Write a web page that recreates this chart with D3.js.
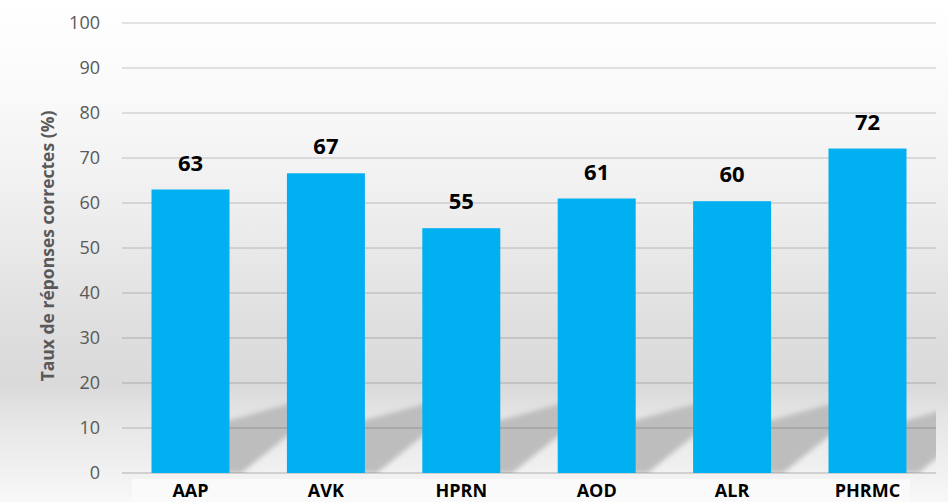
<!DOCTYPE html>
<html>
<head>
<meta charset="utf-8">
<script src="https://cdn.jsdelivr.net/npm/d3@7"></script>
<style>
  html, body { margin: 0; padding: 0; background: #ffffff; }
  svg { display: block; }
</style>
</head>
<body>
<svg id="chart" width="948" height="502"></svg>
<script>
const categories = ["AAP", "AVK", "HPRN", "AOD", "ALR", "PHRMC"];
const values = [63.0, 66.6, 54.4, 61.0, 60.4, 72.1];
const valueLabels = ["63", "67", "55", "61", "60", "72"];
const yTicks = [0, 10, 20, 30, 40, 50, 60, 70, 80, 90, 100];
const yTitle = "Taux de réponses correctes (%)";

const W = 948, H = 502;
const svg = d3.select("#chart");
const defs = svg.append("defs");

// background gradient
const bg = defs.append("linearGradient").attr("id", "bg")
  .attr("x1", 0).attr("y1", 0).attr("x2", 0).attr("y2", 1);
[[0, "#ffffff"], [0.2, "#f9f9f9"], [0.4, "#efefef"], [0.66, "#dedede"],
 [0.77, "#dadada"], [0.83, "#e5e5e5"], [0.94, "#f1f1f1"], [1, "#f8f8f8"]]
  .forEach(([o, c]) => bg.append("stop").attr("offset", o).attr("stop-color", c));
svg.append("rect").attr("width", W).attr("height", H).attr("fill", "url(#bg)");

const blur = defs.append("filter").attr("id", "blur")
  .attr("x", "-20%").attr("y", "-20%").attr("width", "140%").attr("height", "140%");
blur.append("feGaussianBlur").attr("stdDeviation", 2.5);

const plot = { left: 122, right: 936, top: 23, bottom: 473 };

const x = d3.scaleBand().domain(categories)
  .range([plot.left, plot.right]).paddingInner(0.424).paddingOuter(0.218);
const y = d3.scaleLinear().domain([0, 100]).range([plot.bottom, plot.top]);

defs.append("clipPath").attr("id", "plotclip").append("rect")
  .attr("x", plot.left).attr("y", plot.top)
  .attr("width", plot.right - plot.left).attr("height", plot.bottom - plot.top);

// soft light strip behind category labels
svg.append("rect").attr("x", plot.left + 10).attr("y", plot.bottom + 6)
  .attr("width", 910 - plot.left - 10).attr("height", H - plot.bottom - 6)
  .attr("fill", "#fafafa");

// perspective shadows
const sh = svg.append("g").attr("clip-path", "url(#plotclip)");
sh.selectAll("path").data(categories).join("path")
  .attr("d", c => {
    const x1 = x(c) + x.bandwidth();
    const s = x.step() - x.bandwidth();
    return `M${x1 - 4},${y(11.5)} L${x1 + s + 4},${y(15.5)} L${x1 + s + 4},${y(8.9)} L${x1 + 12},${y(0)} L${x1 - 4},${y(0)} Z`;
  })
  .attr("fill", "#bdbdbd")
  .attr("filter", "url(#blur)");

// gridlines
svg.append("g").selectAll("line").data(yTicks).join("line")
  .attr("x1", plot.left).attr("x2", plot.right)
  .attr("y1", d => y(d)).attr("y2", d => y(d))
  .attr("stroke", "#000").attr("stroke-opacity", d => d === 0 ? 0.18 : 0.14)
  .attr("stroke-width", 1.6);

// y axis labels
const yAxis = d3.axisLeft(y).tickValues(yTicks).tickSize(0).tickPadding(0);
const ya = svg.append("g").attr("transform", `translate(100,0)`).call(yAxis);
ya.select(".domain").remove();
ya.selectAll("text")
  .attr("font-family", "'Open Sans', sans-serif")
  .attr("font-size", 18).attr("fill", "#595959");

// bars
svg.append("g").selectAll("rect").data(categories).join("rect")
  .attr("x", c => x(c)).attr("width", x.bandwidth())
  .attr("y", (c, i) => y(values[i]))
  .attr("height", (c, i) => y(0) - y(values[i]))
  .attr("fill", "#00b0f0");

// value labels
svg.append("g").selectAll("text").data(categories).join("text")
  .attr("x", c => x(c) + x.bandwidth() / 2)
  .attr("y", (c, i) => y(values[i]) - 19)
  .attr("text-anchor", "middle")
  .attr("font-family", "'Open Sans', sans-serif")
  .attr("font-weight", "bold").attr("font-size", 22).attr("fill", "#000")
  .text((c, i) => valueLabels[i]);

// category axis
const xAxis = d3.axisBottom(x).tickSize(0).tickPadding(0);
const xa = svg.append("g").attr("transform", `translate(0,${plot.bottom + 10})`).call(xAxis);
xa.select(".domain").remove();
xa.selectAll("text")
  .attr("font-family", "'Open Sans', sans-serif")
  .attr("font-weight", "bold").attr("font-size", 18).attr("fill", "#000")
  .attr("dy", "0.8em");

// y title
svg.append("text")
  .attr("transform", `translate(54,246) rotate(-90)`)
  .attr("text-anchor", "middle")
  .attr("font-family", "'Open Sans', sans-serif")
  .attr("font-weight", "bold").attr("font-size", 17.5).attr("fill", "#595959")
  .text(yTitle);
</script>
</body>
</html>
